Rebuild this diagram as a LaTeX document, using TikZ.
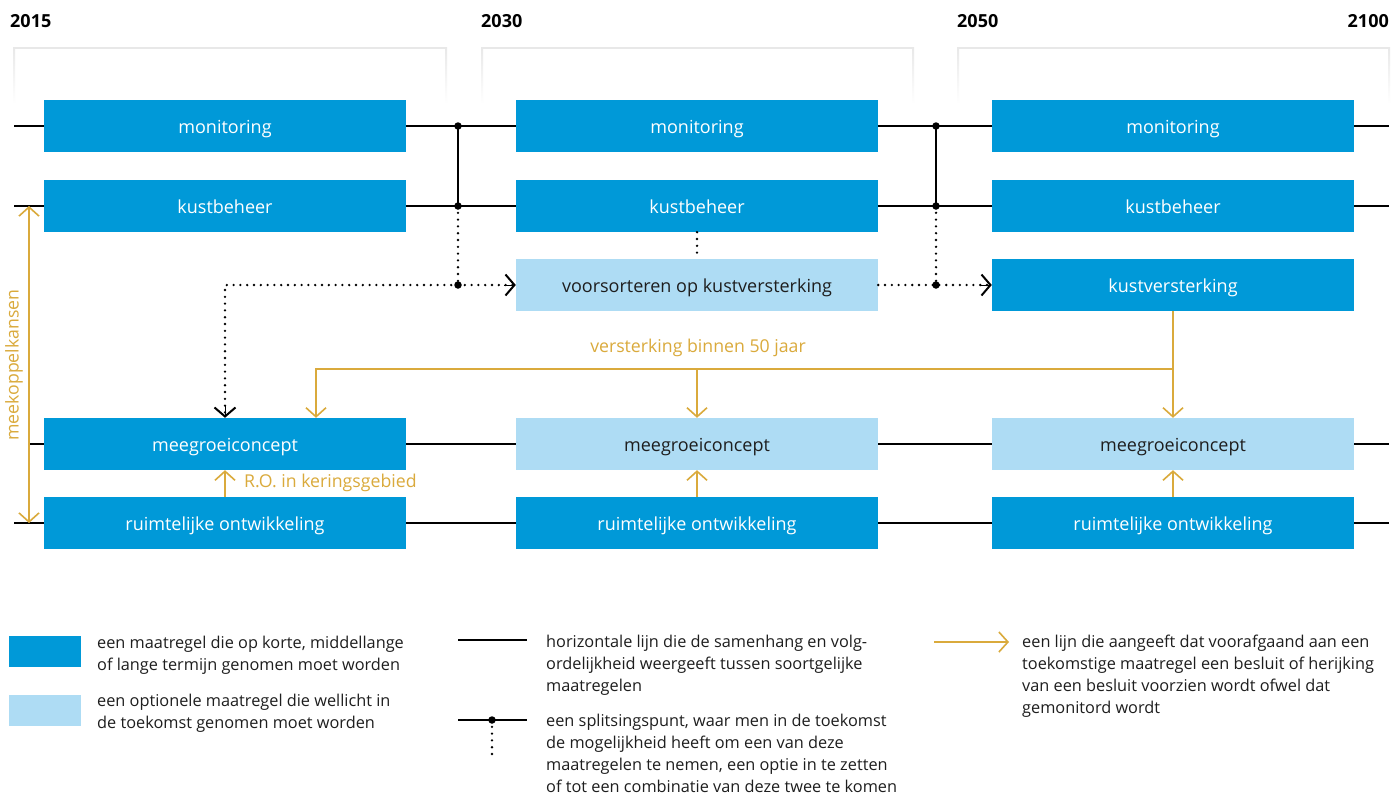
\documentclass[tikz,border=0pt]{standalone}
\usepackage{fontspec}
\setmainfont{Open Sans}
\usetikzlibrary{arrows.meta}
\definecolor{dblue}{RGB}{0,153,216}
\definecolor{lblue}{RGB}{174,220,244}
\definecolor{gold}{RGB}{218,170,60}
\definecolor{txt}{RGB}{30,30,30}
\definecolor{brk}{RGB}{232,232,232}
\tikzset{
  mbox/.style={minimum width=362pt,minimum height=52pt,inner sep=0pt,fill=dblue,text=white,font=\fontsize{18}{21}\selectfont,text height=15pt,text depth=0pt},
  obox/.style={mbox,fill=lblue,text=txt},
  yr/.style={font=\fontsize{18}{21}\selectfont\bfseries,text=black,inner sep=0pt},
  conn/.style={line width=1.4pt,black},
  dots/.style={line width=2.6pt,black,dash pattern=on 0pt off 6.8pt,line cap=round},
  sdot/.style={circle,fill=black,inner sep=0pt,minimum size=7.5pt},
  chev/.style={-{Straight Barb[length=9pt,width=21pt,line width=2pt]}},
  gline/.style={line width=1.6pt,gold},
  gchev/.style={-{Straight Barb[length=9pt,width=20pt,line width=1.6pt]}},
  gtext/.style={text=gold,font=\fontsize{17.7}{21}\selectfont,inner sep=0pt},
  leg/.style={text=txt,font=\fontsize{16.3}{22}\selectfont,inner sep=0pt,anchor=north west,align=left},
}
\begin{document}
\begin{tikzpicture}[x=1pt,y=-1pt]
\fill[white] (0,0) rectangle (1392,796);
\useasboundingbox (0,0) rectangle (1392,796);
% year labels
\node[yr,anchor=base west] (y1) at (10,27) {2015};
\node[yr,anchor=base west] (y2) at (481,27) {2030};
\node[yr,anchor=base west] (y3) at (957,27) {2050};
\node[yr,anchor=base east] (y4) at (1389,27) {2100};
% period brackets
\foreach \a/\b in {14/446,482/913,958/1389}{
  \draw[brk,line width=2pt] (\a,48) -- (\b,48);
  \shade[top color=brk,bottom color=white] (\a-1,47) rectangle (\a+1,104);
  \shade[top color=brk,bottom color=white] (\b-1,47) rectangle (\b+1,104);
}
% coordinates
\coordinate (mL) at (14,126); \coordinate (mR) at (1389,126);
\coordinate (kL) at (14,206); \coordinate (kR) at (1389,206);
\coordinate (gL) at (29,444); \coordinate (gR) at (1389,444);
\coordinate (rL) at (14,523); \coordinate (rR) at (1389,523);
\coordinate (s1a) at (458,126); \coordinate (s1b) at (458,206); \coordinate (s1c) at (458,285);
\coordinate (s2a) at (936,126); \coordinate (s2b) at (936,206); \coordinate (s2c) at (936,285);
\coordinate (c1) at (225,285);
\coordinate (j) at (1173,369);
\coordinate (jl) at (316,369);
% boxes
\node[mbox] (m1) at (225,126) {monitoring};
\node[mbox] (m2) at (697,126) {monitoring};
\node[mbox] (m3) at (1173,126) {monitoring};
\node[mbox] (k1) at (225,206) {kustbeheer};
\node[mbox] (k2) at (697,206) {kustbeheer};
\node[mbox] (k3) at (1173,206) {kustbeheer};
\node[obox] (v2) at (697,285) {voorsorteren op kustversterking};
\node[mbox] (v3) at (1173,285) {kustversterking};
\node[mbox] (g1) at (225,444) {meegroeiconcept};
\node[obox] (g2) at (697,444) {meegroeiconcept};
\node[obox] (g3) at (1173,444) {meegroeiconcept};
\node[mbox] (r1) at (225,523) {ruimtelijke ontwikkeling};
\node[mbox] (r2) at (697,523) {ruimtelijke ontwikkeling};
\node[mbox] (r3) at (1173,523) {ruimtelijke ontwikkeling};
% horizontal lines
\draw[conn] (mL) -- (m1.west); \draw[conn] (m1.east) -- (s1a) -- (m2.west);
\draw[conn] (m2.east) -- (s2a) -- (m3.west); \draw[conn] (m3.east) -- (mR);
\draw[conn] (kL) -- (k1.west); \draw[conn] (k1.east) -- (s1b) -- (k2.west);
\draw[conn] (k2.east) -- (s2b) -- (k3.west); \draw[conn] (k3.east) -- (kR);
\draw[conn] (gL) -- (g1.west); \draw[conn] (g1.east) -- (g2.west);
\draw[conn] (g2.east) -- (g3.west); \draw[conn] (g3.east) -- (gR);
\draw[conn] (rL) -- (r1.west); \draw[conn] (r1.east) -- (r2.west);
\draw[conn] (r2.east) -- (r3.west); \draw[conn] (r3.east) -- (rR);
% split verticals
\draw[conn] (s1a) -- (s1b);
\draw[conn] (s2a) -- (s2b);
\draw[dots] (s1b) -- (s1c);
\draw[dots] (s2b) -- (s2c);
\draw[dots] (k2.south) -- (v2.north);
\draw[dots] (s1c) -- (c1) -- ([yshift=3pt]c1 |- g1.north);
\draw[chev] ([yshift=12pt]c1 |- g1.north) -- (c1 |- g1.north);
\draw[dots] (s1c) -- ([xshift=-3pt]v2.west);
\draw[chev] ([xshift=-12pt]v2.west) -- (v2.west);
\draw[dots] (v2.east) -- (s2c) -- ([xshift=-3pt]v3.west);
\draw[chev] ([xshift=-12pt]v3.west) -- (v3.west);
\foreach \p in {s1a,s1b,s1c,s2a,s2b,s2c} \node[sdot] at (\p) {};
% gold connectors
\draw[gline,gchev] (v3.south) -- (g3.north);
\draw[gline,gchev] (j) -- (jl) -- (jl |- g1.north);
\draw[gline,gchev] (g2.north |- j) -- (g2.north);
\draw[gline,gchev] (r1.north) -- (g1.south);
\draw[gline,gchev] (r2.north) -- (g2.south);
\draw[gline,gchev] (r3.north) -- (g3.south);
\coordinate (mkT) at (29,206); \coordinate (mkB) at (29,523);
\draw[gline,{Straight Barb[length=9pt,width=20pt,line width=1.6pt]}-{Straight Barb[length=9pt,width=20pt,line width=1.6pt]}] (mkT) -- (mkB);
\node[gtext,rotate=90] (mk) at (14,365) {meekoppelkansen};
\node[gtext] (vb) at (698,348) {versterking binnen 50 jaar};
\node[gtext,anchor=west] (ro) at (244,483) {R.O. in keringsgebied};
% legend
\node[fill=dblue,minimum width=72pt,minimum height=31pt,inner sep=0pt] (l1) at (45,651.5) {};
\node[fill=lblue,minimum width=72pt,minimum height=31pt,inner sep=0pt] (l2) at (45,710.5) {};
\node[leg] (t1) at (97,636) {een maatregel die op korte, middellange\\of lange termijn genomen moet worden};
\node[leg] (t2) at (97,694) {een optionele maatregel die wellicht in\\de toekomst genomen moet worden};
\coordinate (la1) at (458,640); \coordinate (la2) at (527,640);
\draw[conn] (la1) -- (la2);
\node[leg] (t3) at (546,635) {horizontale lijn die de samenhang en volg-\\ordelijkheid weergeeft tussen soortgelijke\\maatregelen};
\coordinate (lb1) at (458,720); \coordinate (lb2) at (527,720); \coordinate (lbs) at (492,720); \coordinate (lbd) at (492,757);
\draw[conn] (lb1) -- (lb2);
\draw[dots] (lbs) -- (lbd);
\node[sdot] (lbdot) at (lbs) {};
\node[leg] (t4) at (546,714) {een splitsingspunt, waar men in de toekomst\\de mogelijkheid heeft om een van deze\\maatregelen te nemen, een optie in te zetten\\of tot een combinatie van deze twee te komen};
\coordinate (lc1) at (934,642); \coordinate (lc2) at (1009,642);
\draw[gline,gchev] (lc1) -- (lc2);
\node[leg] (t5) at (1022,635) {een lijn die aangeeft dat voorafgaand aan een\\toekomstige maatregel een besluit of herijking\\van een besluit voorzien wordt ofwel dat\\gemonitord wordt};
\end{tikzpicture}
\end{document}
